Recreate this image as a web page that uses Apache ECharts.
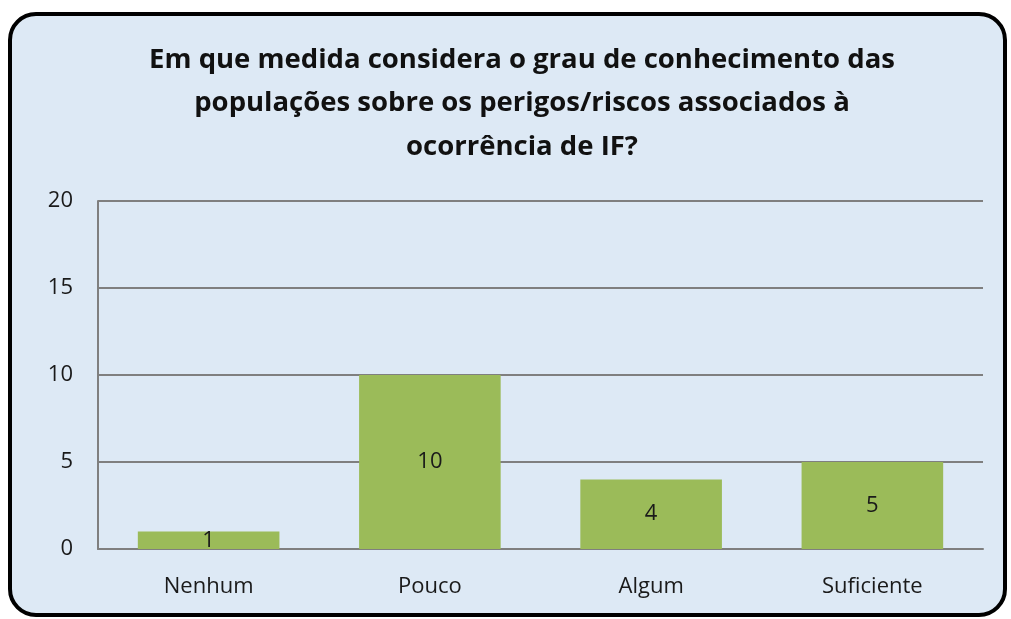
<!DOCTYPE html>
<html>
<head>
<meta charset="utf-8">
<script src="https://cdn.jsdelivr.net/npm/echarts@6/dist/echarts.min.js"></script>
<style>
  html, body { margin: 0; padding: 0; background: #ffffff; }
  #frame {
    position: absolute; left: 8px; top: 12px; width: 991px; height: 597px;
    border: 4px solid #000; border-radius: 28px; overflow: hidden;
    background: #dde9f5;
  }
  #chart { width: 100%; height: 100%; }
</style>
</head>
<body>
<div id="frame"><div id="chart"></div></div>
<script>
const categories = ["Nenhum", "Pouco", "Algum", "Suficiente"];
const values = [1, 10, 4, 5];
const yTicks = { min: 0, max: 20, interval: 5 };

const chart = echarts.init(document.getElementById("chart"));
chart.setOption({
  title: {
    text: "Em que medida considera o grau de conhecimento das\npopulações sobre os perigos/riscos associados à\nocorrência de IF?",
    left: 505,
    top: 17,
    textAlign: "center",
    textStyle: {
      fontFamily: "Open Sans",
      fontWeight: "bold",
      fontSize: 27.5,
      lineHeight: 43.5,
      color: "#111"
    }
  },
  grid: { left: 86, right: 20, top: 185, bottom: 64 },
  xAxis: {
    type: "category",
    data: categories,
    axisLine: { show: true, lineStyle: { color: "#7f7f7f", width: 2 } },
    axisTick: { show: false },
    axisLabel: { fontFamily: "Open Sans", fontSize: 22, color: "#1a1a1a", margin: 27 }
  },
  yAxis: {
    type: "value",
    min: yTicks.min,
    max: yTicks.max,
    interval: yTicks.interval,
    axisLine: { show: true, lineStyle: { color: "#7f7f7f", width: 2 } },
    axisTick: { show: false },
    axisLabel: { fontFamily: "Open Sans", fontSize: 22, color: "#1a1a1a", margin: 25 },
    splitLine: { lineStyle: { color: "#7f7f7f", width: 2 } }
  },
  series: [{
    type: "bar",
    data: values,
    barCategoryGap: "36%",
    itemStyle: { color: "#9bbb59" },
    label: {
      show: true,
      position: "inside",
      fontFamily: "Open Sans",
      fontSize: 22,
      color: "#1a1a1a"
    }
  }]
});
</script>
</body>
</html>
